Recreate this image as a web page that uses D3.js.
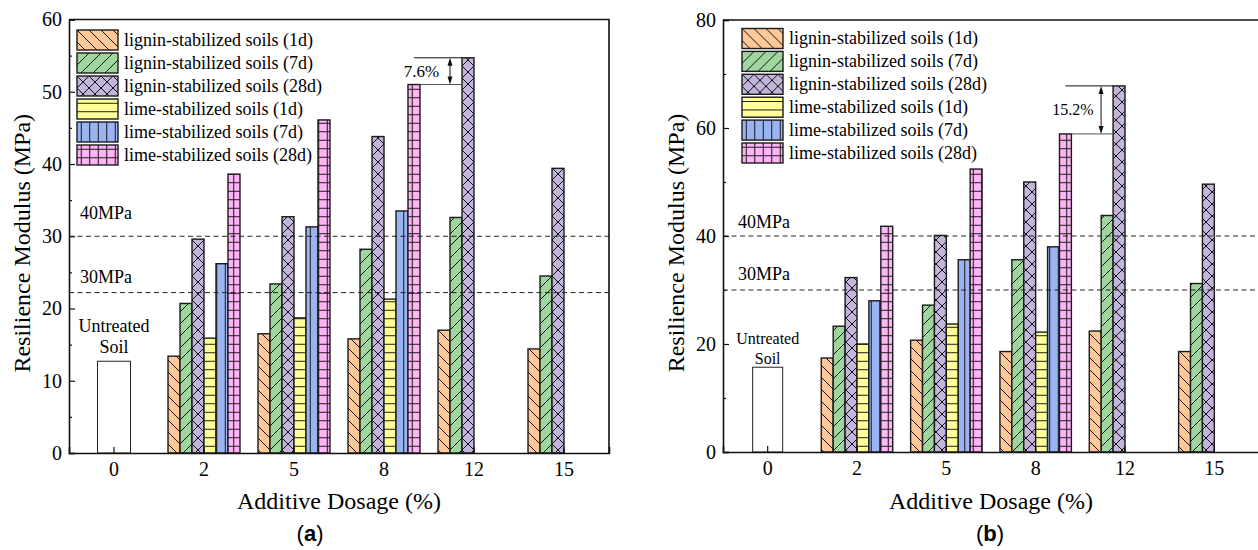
<!DOCTYPE html>
<html>
<head>
<meta charset="utf-8">
<script src="https://cdn.jsdelivr.net/npm/d3@7/dist/d3.min.js"></script>
<style>
  body { margin: 0; background: #fff; }
  svg { display: block; font-family: 'Liberation Serif', 'Times New Roman', serif; }
</style>
</head>
<body>
<div id="chart"></div>
<script>
// ---- data ----
const dosages = ['0', '2', '5', '8', '12', '15'];
const seriesNames = [
  'lignin-stabilized soils (1d)',
  'lignin-stabilized soils (7d)',
  'lignin-stabilized soils (28d)',
  'lime-stabilized soils (1d)',
  'lime-stabilized soils (7d)',
  'lime-stabilized soils (28d)'
];

// panel (a)
const untreatedA = 12.7;
const aLignin1d = [null, 13.4, 16.5, 15.8, 17.0, 14.4];
const aLignin7d = [null, 20.7, 23.4, 28.2, 32.6, 24.5];
const aLignin28d = [null, 29.6, 32.7, 43.8, 54.7, 39.4];
const aLime1d = [null, 15.9, 18.7, 21.3, null, null];
const aLime7d = [null, 26.2, 31.3, 33.5, null, null];
const aLime28d = [null, 38.6, 46.1, 51.0, null, null];
const aRefLines = [30, 22.2];

// panel (b)
const untreatedB = 15.7;
const bLignin1d = [null, 17.4, 20.7, 18.6, 22.4, 18.6];
const bLignin7d = [null, 23.3, 27.2, 35.6, 43.8, 31.2];
const bLignin28d = [null, 32.3, 40.1, 50.0, 67.8, 49.6];
const bLime1d = [null, 20.0, 23.7, 22.2, null, null];
const bLime7d = [null, 28.0, 35.6, 38.0, null, null];
const bLime28d = [null, 41.8, 52.4, 58.9, null, null];
const bRefLines = [40, 30];

const refLabels = ['40MPa', '30MPa'];

// ---- styling ----
const fills = ['#FFC896', '#9ED69E', '#C2B4DA', '#FFFF99', '#99B4F0', '#FFB4F6'];

const svg = d3.select('#chart')
  .append('svg')
  .attr('width', 1258)
  .attr('height', 550);

const defs = svg.append('defs');

// hatch patterns for each series
const hatch = [
  { size: 12, path: 'M0,0L12,12M-3,9L3,15M9,-3L15,3' },            // \\\
  { size: 12, path: 'M0,12L12,0M-3,3L3,-3M9,15L15,9' },            // ///
  { size: 12, path: 'M0,0L12,12M-3,9L3,15M9,-3L15,3M0,12L12,0M-3,3L3,-3M9,15L15,9' }, // xx
  { size: 8.5, path: 'M0,4.25H8.5' },                              // ---
  { size: 8.5, path: 'M4.25,0V8.5' },                              // |||
  { size: 8.5, path: 'M0,4.25H8.5M4.25,0V8.5' }                    // +++
];

hatch.forEach((h, i) => {
  const p = defs.append('pattern')
    .attr('id', `pat${i}`)
    .attr('patternUnits', 'userSpaceOnUse')
    .attr('width', h.size)
    .attr('height', h.size);
  p.append('rect').attr('width', h.size).attr('height', h.size).attr('fill', fills[i]);
  p.append('path').attr('d', h.path).attr('stroke', '#111').attr('stroke-width', 1).attr('fill', 'none');
});

const panels = [
  {
    left: 69, right: 609, top: 19.5, bottom: 453,
    yMax: 60, yStep: 10, yMinor: 5,
    untreated: untreatedA, untreatedW: 33, untreatedFont: 18,
    series: [aLignin1d, aLignin7d, aLignin28d, aLime1d, aLime7d, aLime28d],
    refLines: aRefLines, refLabelY: [213, 277], refLabelX: 80,
    legendX: 77, legendY: 30, legendPitch: 23,
    gain: '7.6%', gainFont: 17,
    untreatedLabelY: [326, 347],
    caption: 'a', captionX: 310
  },
  {
    left: 723, right: 1259, top: 20, bottom: 452,
    yMax: 80, yStep: 20, yMinor: 10,
    untreated: untreatedB, untreatedW: 30, untreatedFont: 16,
    series: [bLignin1d, bLignin7d, bLignin28d, bLime1d, bLime7d, bLime28d],
    refLines: bRefLines, refLabelY: [222, 274], refLabelX: 738,
    legendX: 742, legendY: 28.5, legendPitch: 22.9,
    gain: '15.2%', gainFont: 16,
    untreatedLabelY: [339, 359],
    caption: 'b', captionX: 990
  }
];

function buildPanel(cfg) {
  const g = svg.append('g');

  const x = d3.scaleBand()
    .domain(dosages)
    .range([cfg.left, cfg.right]);

  const y = d3.scaleLinear()
    .domain([0, cfg.yMax])
    .range([cfg.bottom, cfg.top]);

  const barW = x.bandwidth() * 0.1333;
  const inner = d3.scaleBand()
    .domain(d3.range(6))
    .range([-3 * barW, 3 * barW]);
  const center = (d) => x(d) + x.bandwidth() / 2;

  // untreated soil bar
  g.append('rect')
    .attr('x', center('0') - cfg.untreatedW / 2)
    .attr('y', y(cfg.untreated))
    .attr('width', cfg.untreatedW)
    .attr('height', y(0) - y(cfg.untreated))
    .attr('fill', '#fff')
    .attr('stroke', '#222')
    .attr('stroke-width', 1);

  g.selectAll('.ut-label')
    .data(['Untreated', 'Soil'])
    .enter()
    .append('text')
    .attr('x', center('0'))
    .attr('y', (d, i) => cfg.untreatedLabelY[i])
    .attr('dy', '0.33em')
    .attr('text-anchor', 'middle')
    .attr('font-size', cfg.untreatedFont)
    .text((d) => d);

  // grouped bars
  cfg.series.forEach((vals, si) => {
    const pts = vals
      .map((v, di) => ({ v, d: dosages[di] }))
      .filter((p) => p.v !== null);
    g.selectAll(`.bar-s${si}`)
      .data(pts)
      .enter()
      .append('rect')
      .attr('x', (p) => center(p.d) + inner(si))
      .attr('y', (p) => y(p.v))
      .attr('width', inner.bandwidth())
      .attr('height', (p) => y(0) - y(p.v))
      .attr('fill', `url(#pat${si})`)
      .attr('stroke', '#1a1a1a')
      .attr('stroke-width', 1.4);
  });

  // dashed reference lines
  g.selectAll('.ref')
    .data(cfg.refLines)
    .enter()
    .append('line')
    .attr('x1', cfg.left)
    .attr('x2', cfg.right)
    .attr('y1', (d) => y(d))
    .attr('y2', (d) => y(d))
    .attr('stroke', '#222')
    .attr('stroke-width', 1)
    .attr('stroke-dasharray', '5,3.5');

  g.selectAll('.ref-label')
    .data(refLabels)
    .enter()
    .append('text')
    .attr('x', cfg.refLabelX)
    .attr('y', (d, i) => cfg.refLabelY[i])
    .attr('dy', '0.33em')
    .attr('font-size', 18)
    .text((d) => d);

  // increase annotation between lime 28d at 8% and lignin 28d at 12%
  const yHi = y(cfg.series[2][4]);
  const yLo = y(cfg.series[5][3]);
  const pinkRight = center('8') + inner(5) + inner.bandwidth();
  const purpleLeft = center('12') + inner(2);
  const arrowX = purpleLeft - 12;
  g.append('line')
    .attr('x1', pinkRight - 6).attr('x2', purpleLeft)
    .attr('y1', yHi).attr('y2', yHi)
    .attr('stroke', '#111').attr('stroke-width', 1);
  g.append('line')
    .attr('x1', pinkRight).attr('x2', purpleLeft)
    .attr('y1', yLo).attr('y2', yLo)
    .attr('stroke', '#555').attr('stroke-width', 1);
  g.append('line')
    .attr('x1', arrowX).attr('x2', arrowX)
    .attr('y1', yHi + 6).attr('y2', yLo - 6)
    .attr('stroke', '#111').attr('stroke-width', 1);
  g.append('path')
    .attr('d', `M${arrowX},${yHi}l-2.5,8h5z M${arrowX},${yLo}l-2.5,-8h5z`)
    .attr('fill', '#111');
  g.append('text')
    .attr('x', pinkRight + 1.5)
    .attr('y', (yHi + yLo) / 2)
    .attr('dy', '0.33em')
    .attr('text-anchor', 'middle')
    .attr('font-size', cfg.gainFont)
    .text(cfg.gain);

  // legend
  const legend = g.append('g')
    .attr('transform', `translate(${cfg.legendX},${cfg.legendY})`);
  const item = legend.selectAll('.legend-item')
    .data(seriesNames)
    .enter()
    .append('g')
    .attr('transform', (d, i) => `translate(0,${i * cfg.legendPitch})`);
  item.append('rect')
    .attr('width', 41)
    .attr('height', 20)
    .attr('fill', (d, i) => `url(#pat${i})`)
    .attr('stroke', '#1a1a1a')
    .attr('stroke-width', 1.4);
  item.append('text')
    .attr('x', 47)
    .attr('y', 10)
    .attr('dy', '0.33em')
    .attr('font-size', 18)
    .text((d) => d);

  // axes (inward ticks, Origin style)
  const yAxis = g.append('g')
    .attr('transform', `translate(${cfg.left},0)`)
    .call(d3.axisLeft(y)
      .tickValues(d3.range(0, cfg.yMax + 0.1, cfg.yStep))
      .tickSize(-6)
      .tickPadding(7));
  yAxis.selectAll('text').attr('font-size', 20).attr('font-family', 'Liberation Serif');

  g.append('g')
    .attr('transform', `translate(${cfg.left},0)`)
    .call(d3.axisLeft(y)
      .tickValues(d3.range(cfg.yMinor, cfg.yMax, cfg.yStep))
      .tickSize(-3)
      .tickFormat(''))
    .select('.domain').remove();

  const xAxis = g.append('g')
    .attr('transform', `translate(0,${cfg.bottom})`)
    .call(d3.axisBottom(x).tickSize(-6).tickPadding(9));
  xAxis.selectAll('text').attr('font-size', 20).attr('font-family', 'Liberation Serif');

  g.append('g')
    .attr('transform', `translate(0,${cfg.bottom})`)
    .call(d3.axisBottom(x.copy())
      .tickValues(dosages.slice(1))
      .tickSize(-3)
      .tickFormat('')
      .offset(-x.bandwidth() / 2))
    .select('.domain').remove();

  g.selectAll('.domain').attr('stroke-width', 1.6).attr('stroke', '#111');
  g.selectAll('.tick line').attr('stroke', '#111').attr('stroke-width', 1.2);

  // frame top and right
  g.append('path')
    .attr('d', `M${cfg.left},${cfg.top}H${cfg.right}V${cfg.bottom}`)
    .attr('fill', 'none')
    .attr('stroke', '#111')
    .attr('stroke-width', 1.6);

  // axis titles
  g.append('text')
    .attr('transform', `translate(${cfg.left - 39},${(cfg.top + cfg.bottom) / 2 + 7}) rotate(-90)`)
    .attr('text-anchor', 'middle')
    .attr('font-size', 24)
    .text('Resilience Modulus (MPa)');

  g.append('text')
    .attr('x', (cfg.left + cfg.right) / 2)
    .attr('y', 509)
    .attr('text-anchor', 'middle')
    .attr('font-size', 24)
    .text('Additive Dosage (%)');

  const cap = g.append('text')
    .attr('x', cfg.captionX)
    .attr('y', 541)
    .attr('text-anchor', 'middle')
    .attr('font-family', "'Liberation Sans', Arial, sans-serif")
    .attr('font-size', 22);
  cap.append('tspan').text('(');
  cap.append('tspan').attr('font-weight', 'bold').text(cfg.caption);
  cap.append('tspan').text(')');
}

panels.forEach(buildPanel);
</script>
</body>
</html>
